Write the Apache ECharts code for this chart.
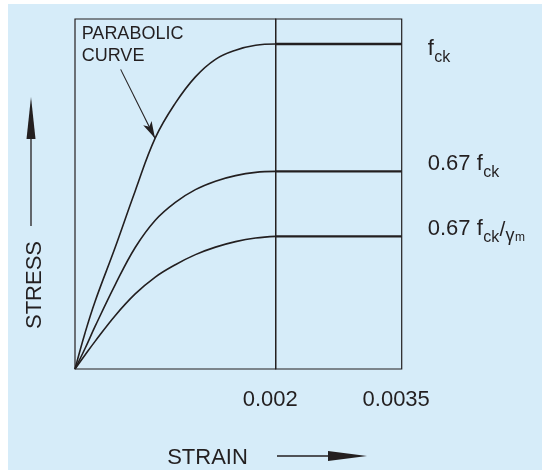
<!DOCTYPE html>
<html>
<head>
<meta charset="utf-8">
<script src="https://cdn.jsdelivr.net/npm/echarts@6/dist/echarts.min.js"></script>
<style>
  html, body { margin: 0; padding: 0; background: #ffffff; }
  #bg { position: absolute; left: 8px; top: 4px; width: 534px; height: 466px; background: #d6ecf9; }
  #c { position: absolute; left: 0; top: 0; width: 542px; height: 470px; }
</style>
</head>
<body>
<div id="bg"></div>
<div id="c"></div>
<script>
// Strain samples along the parabolic part (0 .. 0.002)
const riseStrain = [0, 0.0001, 0.0002, 0.0004, 0.0006, 0.0008, 0.001, 0.0012, 0.0014, 0.0016, 0.0018, 0.002];
// Stress values (relative, fck = 1)
const fckStress    = [0, 0.111, 0.208, 0.374, 0.548, 0.711, 0.818, 0.899, 0.953, 0.981, 0.996, 1.0];
const designStress = [0, 0.063, 0.131, 0.259, 0.374, 0.458, 0.513, 0.552, 0.578, 0.595, 0.605, 0.608];
const factStress   = [0, 0.043, 0.085, 0.164, 0.231, 0.283, 0.321, 0.352, 0.375, 0.392, 0.403, 0.408];
// Constant part from 0.002 to 0.0035
const plateauStrain = [0.002, 0.0035];
const plateauLevels = [1.0, 0.608, 0.408];
// Tick labels
const strainTicks1 = [0.002];
const strainTicks2 = [0.0035];
const tickLabels = { '0.002': '0.002', '0.0035': '0.0035' };
// Annotation arrow (strain, stress)
const arrowFrom = [0.000455, 0.922];
const arrowTo = [0.000797, 0.710];

const INK = '#231f20';
const FONT = 'Liberation Sans, Arial, Helvetica, sans-serif';

function pairs(xs, ys) { return xs.map((x, i) => [x, ys[i]]); }

const chart = echarts.init(document.getElementById('c'), null, { renderer: 'canvas' });

const yMax = 1.077;

const option = {
  animation: false,
  backgroundColor: 'transparent',
  grid: [
    { left: 75, top: 19, width: 200.7, height: 350, show: true, borderColor: INK, borderWidth: 1.2, backgroundColor: 'transparent' },
    { left: 275.7, top: 19, width: 126, height: 350, show: true, borderColor: INK, borderWidth: 1.2, backgroundColor: 'transparent' }
  ],
  xAxis: [
    {
      type: 'value', gridIndex: 0, min: 0, max: 0.002,
      axisLine: { show: false }, axisTick: { show: false }, splitLine: { show: false },
      axisLabel: {
        customValues: strainTicks1, showMaxLabel: true,
        formatter: v => tickLabels[String(v)] || '',
        color: INK, fontFamily: FONT, fontSize: 22, margin: 20, padding: [0, 11, 0, 0]
      }
    },
    {
      type: 'value', gridIndex: 1, min: 0.002, max: 0.0035,
      axisLine: { show: false }, axisTick: { show: false }, splitLine: { show: false },
      axisLabel: {
        customValues: strainTicks2, showMaxLabel: true,
        formatter: v => tickLabels[String(v)] || '',
        color: INK, fontFamily: FONT, fontSize: 22, margin: 20, padding: [0, 11, 0, 0]
      }
    }
  ],
  yAxis: [
    { type: 'value', gridIndex: 0, min: 0, max: yMax, show: false, splitLine: { show: false } },
    { type: 'value', gridIndex: 1, min: 0, max: yMax, show: false, splitLine: { show: false } }
  ],
  series: [
    {
      type: 'line', xAxisIndex: 0, yAxisIndex: 0, smooth: 0.4, symbol: 'none',
      lineStyle: { color: INK, width: 1.6 },
      data: pairs(riseStrain, fckStress),
      markLine: {
        silent: true, symbol: ['none', 'arrow'], symbolSize: [7, 17],
        label: { show: false },
        lineStyle: { color: INK, width: 1.1, type: 'solid' },
        data: [[{ coord: arrowFrom }, { coord: arrowTo }]]
      }
    },
    {
      type: 'line', xAxisIndex: 0, yAxisIndex: 0, smooth: 0.4, symbol: 'none',
      lineStyle: { color: INK, width: 1.6 },
      data: pairs(riseStrain, designStress)
    },
    {
      type: 'line', xAxisIndex: 0, yAxisIndex: 0, smooth: 0.4, symbol: 'none',
      lineStyle: { color: INK, width: 1.6 },
      data: pairs(riseStrain, factStress)
    }
  ].concat(plateauLevels.map(lv => ({
    type: 'line', xAxisIndex: 1, yAxisIndex: 1, symbol: 'none',
    lineStyle: { color: INK, width: 2.4 },
    data: plateauStrain.map(s => [s, lv])
  }))),
  graphic: [
    // Annotation text
    { type: 'text', x: 81.7, y: 34.5, style: { text: 'PARABOLIC', font: '18px ' + FONT, fill: INK, align: 'left', verticalAlign: 'middle' } },
    { type: 'text', x: 81.7, y: 56.2, style: { text: 'CURVE', font: '18px ' + FONT, fill: INK, align: 'left', verticalAlign: 'middle' } },
    // Right-hand labels
    { type: 'text', x: 427.7, y: 48.8, style: { text: 'f', font: '22px ' + FONT, fill: INK, align: 'left', verticalAlign: 'middle' } },
    { type: 'text', x: 434.2, y: 57.5, style: { text: 'ck', font: '16px ' + FONT, fill: INK, align: 'left', verticalAlign: 'middle' } },

    { type: 'text', x: 427.7, y: 163.8, style: { text: '0.67 f', font: '22px ' + FONT, fill: INK, align: 'left', verticalAlign: 'middle' } },
    { type: 'text', x: 483.2, y: 172.4, style: { text: 'ck', font: '16px ' + FONT, fill: INK, align: 'left', verticalAlign: 'middle' } },

    { type: 'text', x: 427.7, y: 228.8, style: { text: '0.67 f', font: '22px ' + FONT, fill: INK, align: 'left', verticalAlign: 'middle' } },
    { type: 'text', x: 483.2, y: 237.4, style: { text: 'ck', font: '16px ' + FONT, fill: INK, align: 'left', verticalAlign: 'middle' } },
    { type: 'text', x: 499.5, y: 230.5, style: { text: '/', font: '21px ' + FONT, fill: INK, align: 'left', verticalAlign: 'middle' } },
    { type: 'text', x: 505.5, y: 236.5, style: { text: 'γ', font: '18px ' + FONT, fill: INK, align: 'left', verticalAlign: 'middle' } },
    { type: 'text', x: 515.0, y: 238.0, style: { text: 'm', font: '12px ' + FONT, fill: INK, align: 'left', verticalAlign: 'middle' } },

    // Axis titles
    { type: 'text', x: 207.5, y: 458, style: { text: 'STRAIN', font: '22px ' + FONT, fill: INK, align: 'center', verticalAlign: 'middle' } },
    { type: 'line', shape: { x1: 277, y1: 456, x2: 332, y2: 456 }, style: { stroke: INK, lineWidth: 1.3 } },
    { type: 'polygon', shape: { points: [[367, 456], [328, 451], [328, 461]] }, style: { fill: INK } },

    { type: 'text', x: 35, y: 285, rotation: Math.PI / 2, style: { text: 'STRESS', font: '22px ' + FONT, fill: INK, align: 'center', verticalAlign: 'middle' } },
    { type: 'line', shape: { x1: 31, y1: 226, x2: 31, y2: 134 }, style: { stroke: INK, lineWidth: 1.3 } },
    { type: 'polygon', shape: { points: [[31, 97], [26.5, 139], [35.5, 139]] }, style: { fill: INK } }
  ]
};

chart.setOption(option);
</script>
</body>
</html>
